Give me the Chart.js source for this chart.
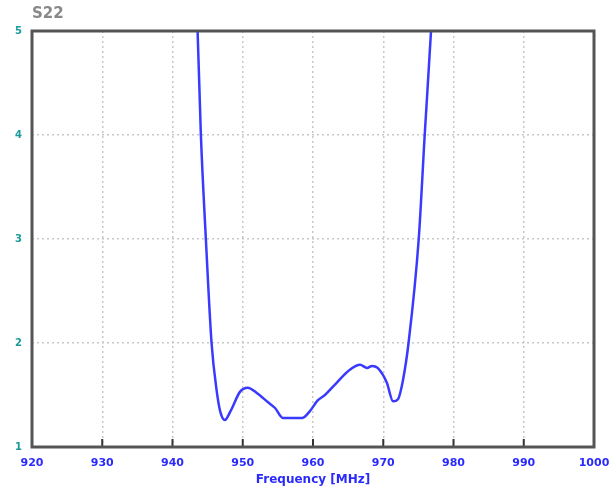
<!DOCTYPE html>
<html>
<head>
<meta charset="utf-8">
<script src="https://cdn.jsdelivr.net/npm/chart.js@4/dist/chart.umd.min.js"></script>
<style>
  html, body { margin: 0; padding: 0; background: #fff; }
  #wrap { width: 614px; height: 495px; }
</style>
</head>
<body>
<div id="wrap"><canvas id="chartS22"></canvas></div>
<script>
// DATA
const freqMHz = [943.2, 943.57, 944.04, 944.75, 945.56, 946.27, 946.8, 947.45, 948.3, 949.6, 950.7, 952.0,
                 953.6, 954.6, 955.7, 957.0, 958.5, 959.5, 960.7, 961.7, 963.4, 965.2, 966.7, 967.7,
                 968.4, 969.2, 970.5, 971.4, 972.1, 972.8, 973.6, 975.05, 975.9, 976.8, 977.1];
const s22 = [5.5, 5.0, 4.0, 3.0, 2.0, 1.55, 1.34, 1.26, 1.35, 1.53, 1.57, 1.52,
             1.43, 1.375, 1.28, 1.28, 1.28, 1.34, 1.45, 1.50, 1.62, 1.74, 1.79, 1.76,
             1.78, 1.76, 1.62, 1.44, 1.46, 1.64, 2.0, 3.0, 4.0, 5.0, 5.4];
const xTicks = [920, 930, 940, 950, 960, 970, 980, 990, 1000];
const yTicks = [1, 2, 3, 4, 5];

// KHUNG + VẠCH + TIÊU ĐỀ
const framePlugin = {
    id: 'frame',
    afterDraw(chart) {
        const { ctx, chartArea: a, scales } = chart;
        ctx.save();
        // vạch nhỏ dưới trục x
        ctx.strokeStyle = '#333';
        ctx.lineWidth = 2;
        xTicks.slice(1, -1).forEach(t => {
            const px = scales.x.getPixelForValue(t);
            ctx.beginPath();
            ctx.moveTo(px, a.bottom);
            ctx.lineTo(px, a.bottom - 8);
            ctx.stroke();
        });
        ctx.strokeStyle = '#555';
        ctx.lineWidth = 3;
        ctx.strokeRect(a.left, a.top, a.right - a.left, a.bottom - a.top);
        ctx.fillStyle = '#888';
        ctx.font = 'bold 15px "DejaVu Sans", sans-serif';
        ctx.textBaseline = 'middle';
        ctx.fillText('S22', a.left, 14);
        ctx.restore();
    }
};

new Chart(document.getElementById('chartS22'), {
    type: 'line',
    data: {
        datasets: [{
            label: 'S22',
            data: freqMHz.map((f, i) => ({ x: f, y: s22[i] })),
            borderColor: '#3a3aff',
            borderWidth: 2.5,
            pointRadius: 0,
            cubicInterpolationMode: 'monotone',
            fill: false
        }]
    },
    options: {
        responsive: true,
        maintainAspectRatio: false,
        animation: false,
        layout: { padding: { top: 31, right: 20, left: 0, bottom: 0 } },
        plugins: { legend: { display: false }, tooltip: { enabled: false } },
        scales: {
            x: {
                type: 'linear',
                min: 920, max: 1000,
                afterBuildTicks: s => { s.ticks = xTicks.map(v => ({ value: v })); },
                afterFit: s => { s.height = 48; s.paddingRight = 0; s.paddingLeft = 0; },
                border: { display: false, dash: [2, 3] },
                grid: { color: '#c8c8c8', lineWidth: 1.5, drawTicks: false },
                ticks: {
                    color: '#2a2aff', padding: 10,
                    font: { family: '"DejaVu Sans", sans-serif', size: 11, weight: 'bold' },
                    maxRotation: 0,
                    callback: v => String(v)
                },
                title: {
                    display: true, text: 'Frequency [MHz]', color: '#2a2aff', padding: { top: 0, bottom: 8 },
                    font: { family: '"DejaVu Sans", sans-serif', size: 12, weight: 'bold' }
                }
            },
            y: {
                min: 1, max: 5,
                afterBuildTicks: s => { s.ticks = yTicks.map(v => ({ value: v })); },
                afterFit: s => { s.width = 32; },
                border: { display: false, dash: [2, 3] },
                grid: { color: '#c8c8c8', lineWidth: 1.5, drawTicks: false },
                ticks: {
                    color: '#1a9a9a', padding: 10,
                    font: { family: '"DejaVu Sans", sans-serif', size: 10, weight: 'bold' }
                }
            }
        }
    },
    plugins: [framePlugin]
});
</script>
</body>
</html>
